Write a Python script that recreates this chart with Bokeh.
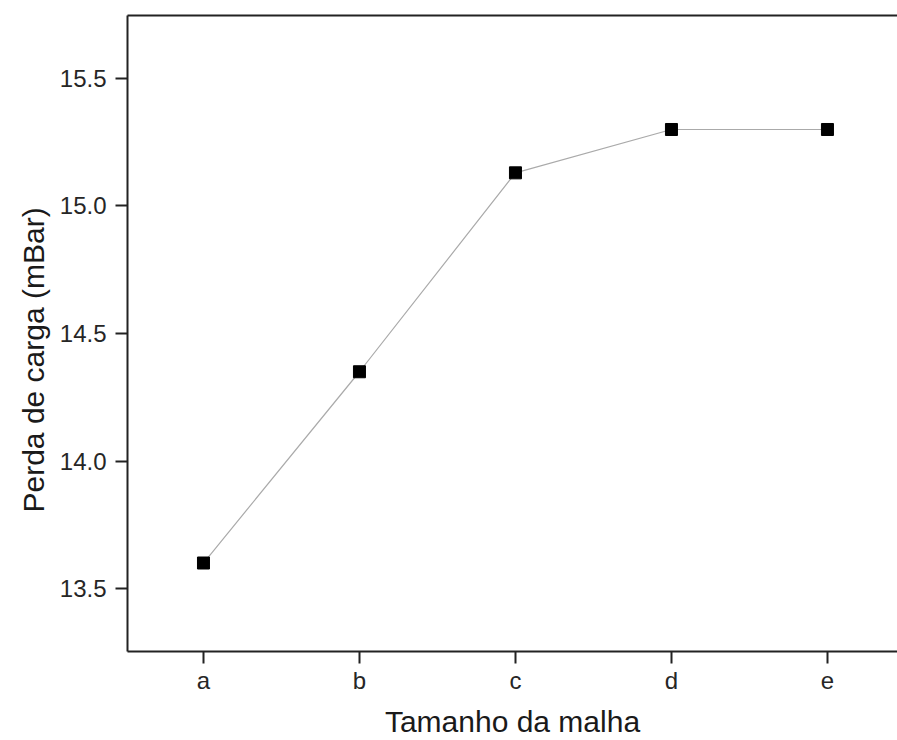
from bokeh.plotting import figure
from bokeh.models import Range1d, LinearAxis, FixedTicker, Title
from bokeh.embed import file_html
from bokeh.resources import INLINE

categories = ["a", "b", "c", "d", "e"]
perda = [13.60, 14.35, 15.13, 15.30, 15.30]
y_ticks = [13.5, 14.0, 14.5, 15.0, 15.5]

xs = list(range(len(categories)))

FONT = "Liberation Sans"

p = figure(width=897, height=740, output_backend="svg", toolbar_location=None,
           x_range=Range1d(-0.487, 4.449), y_range=Range1d(13.253, 15.747),
           x_axis_location=None, y_axis_location=None,
           min_border_left=127, min_border_right=0, min_border_top=15, min_border_bottom=89)
p.outline_line_color = None
p.grid.visible = False
p.background_fill_color = "white"
p.border_fill_color = "white"

p.line(xs, perda, line_color="#aaaaaa", line_width=1.2)
p.scatter(xs, perda, marker="square", size=12, fill_color="black", line_color="black")

def style(ax):
    ax.axis_line_color = "#222222"
    ax.axis_line_width = 2
    ax.major_tick_line_color = "#222222"
    ax.major_tick_line_width = 2
    ax.major_tick_out = 12
    ax.major_tick_in = 0
    ax.minor_tick_out = 0
    ax.minor_tick_in = 0
    ax.major_label_text_font = FONT
    ax.major_label_text_font_size = "24px"
    ax.major_label_text_color = "#262626"
    ax.axis_label_text_font = FONT
    ax.axis_label_text_font_size = "30px"
    ax.axis_label_text_font_style = "normal"
    ax.axis_label_text_color = "#1a1a1a"

xa = LinearAxis(ticker=FixedTicker(ticks=xs), axis_label="Tamanho da malha")
style(xa)
xa.major_label_overrides = {i: c for i, c in zip(xs, categories)}
xa.major_label_standoff = 3
xa.axis_label_standoff = 8
p.add_layout(xa, "below")

ya = LinearAxis(ticker=FixedTicker(ticks=y_ticks))
style(ya)
ya.major_label_overrides = {t: f"{t:.1f}" for t in y_ticks}
ya.major_label_standoff = 9
p.add_layout(ya, "left")

ytitle = Title(text="Perda de carga (mBar)", align="left", offset=139,
               text_font=FONT, text_font_size="30px", text_font_style="normal",
               text_color="#1a1a1a", standoff=14)
p.add_layout(ytitle, "left")

top = LinearAxis(ticker=FixedTicker(ticks=[]))
top.axis_line_color = "#222222"
top.axis_line_width = 2
top.major_tick_out = 0
top.minor_tick_out = 0
top.major_label_text_font_size = "0px"
p.add_layout(top, "above")

open("out.html", "w").write(file_html(p, INLINE))
